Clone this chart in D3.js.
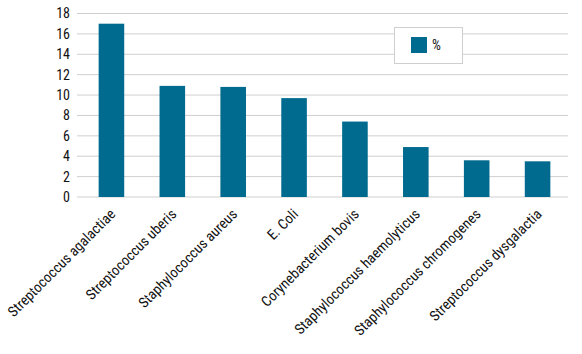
<!DOCTYPE html>
<html>
<head>
<meta charset="utf-8">
<script src="https://cdn.jsdelivr.net/npm/d3@7"></script>
<style>
body { margin: 0; background: #fff; }
text { font-family: "Liberation Sans Narrow", "Roboto Condensed", Roboto, sans-serif; fill: #111; }
</style>
</head>
<body>
<div id="chart"></div>
<script>
var categories = ["Streptococcus agalactiae", "Streptococcus uberis", "Staphylococcus aureus", "E. Coli",
    "Corynebacterium bovis", "Staphylococcus haemolyticus", "Staphylococcus chromogenes", "Streptococcus dysgalactia"];
var values = [17, 10.9, 10.8, 9.7, 7.4, 4.9, 3.6, 3.5];
var yTicks = [0, 2, 4, 6, 8, 10, 12, 14, 16, 18];
var seriesName = "%";

var margin = { top: 13.5, left: 77, bottom: 157, right: 14 },
    width = 582 - margin.left - margin.right,
    height = 354 - margin.top - margin.bottom;

var svg = d3.select('#chart').append('svg')
    .attr('width', 582)
    .attr('height', 354)
    .append('g')
    .attr('transform', 'translate(' + margin.left + ', ' + margin.top + ')');

var x = d3.scaleBand()
    .domain(categories)
    .range([4, width])
    .paddingInner(0.58)
    .paddingOuter(0.29);

var y = d3.scaleLinear()
    .domain([0, 18])
    .range([height, 0]);

// gridlines
svg.selectAll('.grid')
    .data(yTicks)
    .enter()
    .append('line')
    .attr('x1', 0)
    .attr('x2', width)
    .attr('y1', d => y(d))
    .attr('y2', d => y(d))
    .attr('stroke', '#cfcfcf')
    .attr('stroke-width', 1);

// y tick labels
var yAxis = d3.axisLeft(y).tickValues(yTicks).tickSize(0).tickPadding(7);
svg.append('g')
    .call(yAxis)
    .call(g => g.select('.domain').remove())
    .selectAll('text')
    .style('font-size', '14px');

svg.selectAll('.bar')
    .data(values)
    .enter()
    .append('rect')
    .attr('class', 'bar')
    .attr('x', (d, i) => x(categories[i]))
    .attr('y', d => y(d))
    .attr('width', x.bandwidth())
    .attr('height', d => height - y(d))
    .attr('fill', '#006a8f');

// x labels
var xAxis = d3.axisBottom(x).tickSize(0).tickPadding(0);
svg.append('g')
    .attr('transform', 'translate(0,' + height + ')')
    .call(xAxis)
    .call(g => g.select('.domain').remove())
    .selectAll('text')
    .style('font-size', '14.5px')
    .style('text-anchor', 'end')
    .attr('dy', 0)
    .attr('transform', 'translate(5,18) rotate(-45)');

// legend
var legend = svg.append('g')
    .attr('transform', 'translate(' + (394 - margin.left) + ',' + (27 - margin.top) + ')');
legend.append('rect')
    .attr('x', 0.5).attr('y', 0.5)
    .attr('width', 68).attr('height', 36)
    .attr('fill', '#fff')
    .attr('stroke', '#cfcfcf');
legend.append('rect')
    .attr('x', 17).attr('y', 10)
    .attr('width', 16).attr('height', 16)
    .attr('fill', '#006a8f');
legend.append('text')
    .attr('x', 38).attr('y', 23)
    .style('font-size', '14px')
    .text(seriesName);
</script>
</body>
</html>
